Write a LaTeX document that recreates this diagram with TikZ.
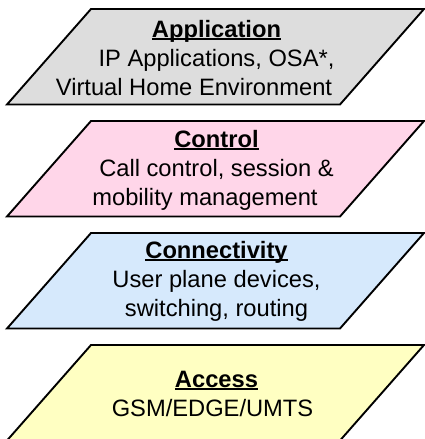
\documentclass[tikz,border=0pt]{standalone}
\usepackage{fontspec}
\setmainfont{Liberation Sans}
\definecolor{appgray}{RGB}{221,221,221}
\definecolor{ctrlpink}{RGB}{255,214,233}
\definecolor{connblue}{RGB}{214,233,252}
\definecolor{accyellow}{RGB}{255,255,194}
\newcommand{\layerul}[1]{\setbox0=\hbox{\bfseries #1}\rlap{\rule[-2.6pt]{\wd0}{1.7pt}}\box0}
\tikzset{
  layer/.style={draw=black, line width=1.9pt, line join=miter},
  layertext/.style={align=center, anchor=base, inner sep=0pt, font=\fontsize{23.7}{29}\selectfont},
}
\begin{document}
\begin{tikzpicture}[x=1pt,y=-1pt]
\useasboundingbox (0,0) rectangle (425,439);
% Application
\path[layer, fill=appgray] (91,9) -- (424,9) -- (340,104.5) -- (7,104.5) -- cycle;
\node[layertext] (app) at (216.5,95) {\layerul{Application}\\IP Applications, OSA*,\\Virtual Home Environment\rule{45pt}{0pt}};
% Control
\path[layer, fill=ctrlpink] (91,121) -- (424,121) -- (340,216.5) -- (7,216.5) -- cycle;
\node[layertext] (ctrl) at (216.5,205) {\layerul{Control}\\Call control, session \&\\mobility management\rule{23pt}{0pt}};
% Connectivity
\path[layer, fill=connblue] (91,233) -- (424,233) -- (340,328.5) -- (7,328.5) -- cycle;
\node[layertext] (conn) at (216.5,316) {\layerul{Connectivity}\\User plane devices,\\switching, routing};
% Access
\path[layer, fill=accyellow] (91,345) -- (424,345) -- (340,440.5) -- (7,440.5) -- cycle;
\node[layertext] (acc) at (216.5,416) {\layerul{Access}\\GSM/EDGE/UMTS\rule{8pt}{0pt}};
\end{tikzpicture}
\end{document}
